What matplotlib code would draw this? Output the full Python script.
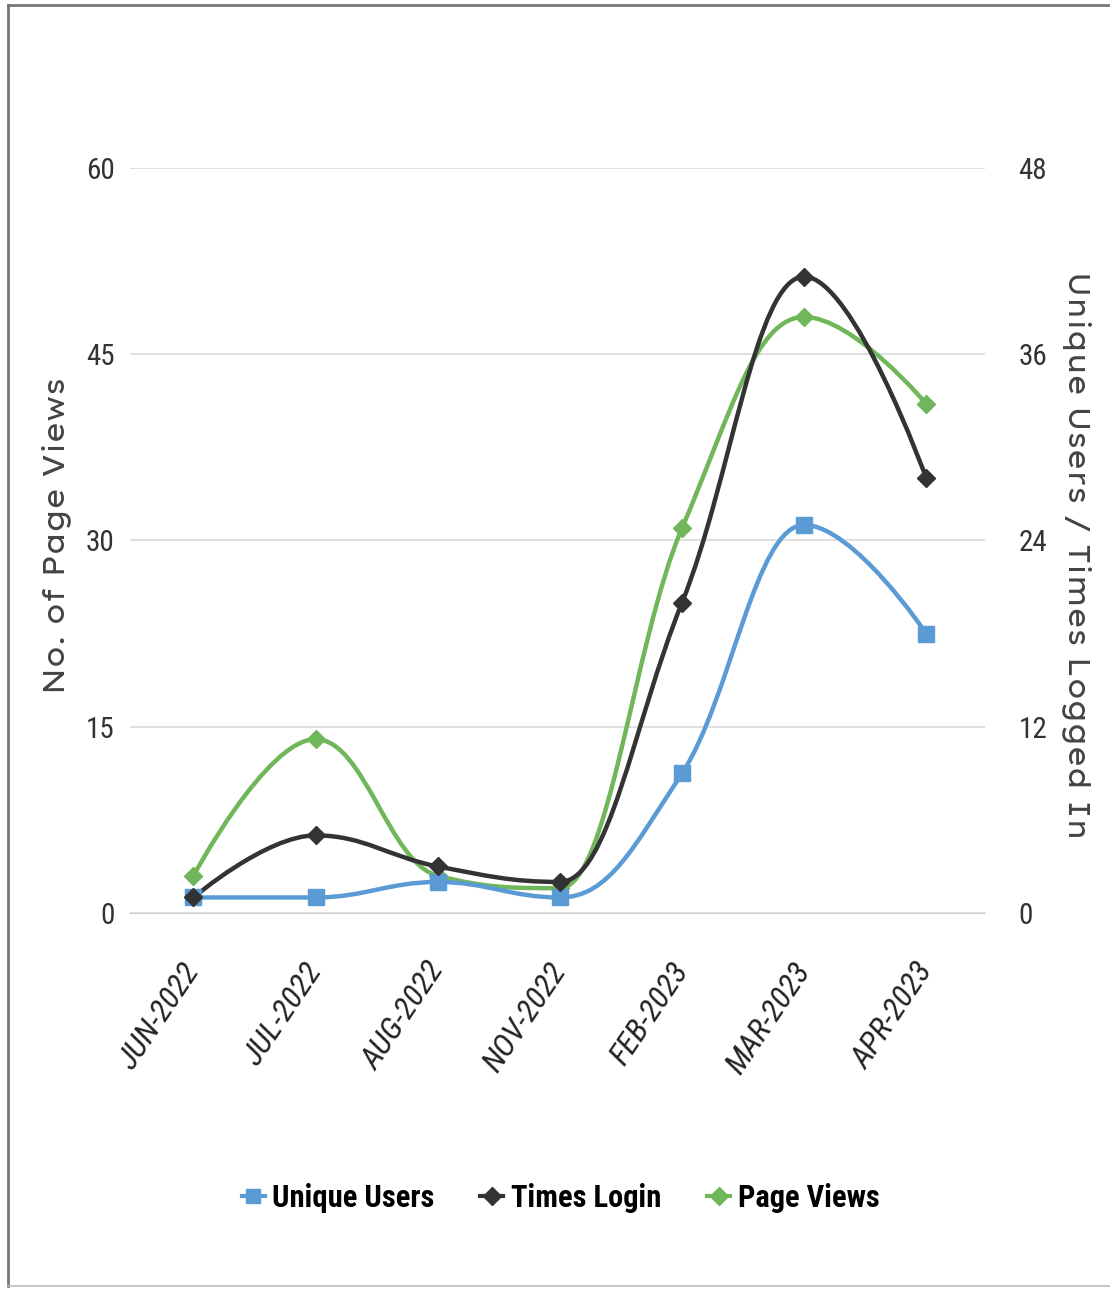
import numpy as np
import matplotlib
matplotlib.use("Agg")
from matplotlib import pyplot as plt
from matplotlib.path import Path
from matplotlib.patches import PathPatch
from matplotlib.lines import Line2D

months = ["JUN-2022", "JUL-2022", "AUG-2022", "NOV-2022", "FEB-2023", "MAR-2023", "APR-2023"]
unique_users = [1, 1, 2, 1, 9, 25, 18]
times_login = [1, 5, 3, 2, 20, 41, 28]
page_views = [3, 14, 3, 2, 31, 48, 41]

left_ticks = [0, 15, 30, 45, 60]
right_ticks = [0, 12, 24, 36, 48]

BLUE = "#5b9bd5"
BLACK = "#333333"
GREEN = "#70b65a"
NARROW = ["Roboto Condensed", "PT Sans Narrow", "Liberation Sans Narrow", "DejaVu Sans"]
WIDE = ["Lexend Exa", "DejaVu Sans"]


def spline_path(xs, ys, smoothing=1.5):
    # bezier spline through the points, like a charting lib "spline" series
    n = len(xs)
    denom = smoothing + 1
    right_c = [None] * n
    verts = [(xs[0], ys[0])]
    codes = [Path.MOVETO]
    for i in range(1, n):
        x, y = xs[i], ys[i]
        lx, ly = xs[i - 1], ys[i - 1]
        lcx, lcy = x, y
        if i < n - 1:
            nx, ny = xs[i + 1], ys[i + 1]
            lcx = (smoothing * x + lx) / denom
            lcy = (smoothing * y + ly) / denom
            rcx = (smoothing * x + nx) / denom
            rcy = (smoothing * y + ny) / denom
            corr = (rcy - lcy) * (rcx - x) / (rcx - lcx) + y - rcy
            lcy += corr
            rcy += corr
            if lcy > ly and lcy > y:
                lcy = max(ly, y)
                rcy = 2 * y - lcy
            elif lcy < ly and lcy < y:
                lcy = min(ly, y)
                rcy = 2 * y - lcy
            if rcy > ny and rcy > y:
                rcy = max(ny, y)
                lcy = 2 * y - rcy
            elif rcy < ny and rcy < y:
                rcy = min(ny, y)
                lcy = 2 * y - rcy
            right_c[i] = (rcx, rcy)
        p0 = right_c[i - 1] if right_c[i - 1] is not None else (lx, ly)
        verts += [p0, (lcx, lcy), (x, y)]
        codes += [Path.CURVE4] * 3
    return Path(verts, codes)


fig = plt.figure(figsize=(11.1, 12.91), dpi=100)
ax = fig.add_axes([0.117, 0.2928, 0.7704, 0.5771])
ax2 = ax.twinx()

x = np.arange(len(months))

for axis, vals, col, mk, ms in [(ax2, unique_users, BLUE, "s", 11),
                                 (ax2, times_login, BLACK, "D", 9),
                                 (ax, page_views, GREEN, "D", 9)]:
    p = spline_path(list(x.astype(float)), [float(v) for v in vals])
    axis.add_patch(PathPatch(p, facecolor="none", edgecolor=col, lw=3.2, zorder=3))
    axis.plot(x, vals, ls="none", marker=mk, color=col, ms=ms, zorder=4)

ax.set_xlim(-0.52, 6.48)
ax.set_ylim(0, 60)
ax2.set_ylim(0, 48)
ax.set_yticks(left_ticks)
ax2.set_yticks(right_ticks)
ax.grid(axis="y", color="#d9d9d9", lw=1.2)
ax.set_axisbelow(True)
for a in (ax, ax2):
    for s in a.spines.values():
        s.set_visible(False)
    a.tick_params(axis="y", length=0, labelsize=21, labelcolor="#333333")
    for lab in a.get_yticklabels():
        lab.set_family(NARROW)
ax.spines["bottom"].set_visible(True)
ax.spines["bottom"].set_color("#d0d0d0")
ax.tick_params(axis="y", pad=11)
ax2.tick_params(axis="y", pad=24)

ax.set_xticks(x)
ax.set_xticklabels(months, rotation=56, ha="right", va="center", rotation_mode="anchor",
                   fontsize=23, style="italic", family=NARROW, color="#222222")
ax.tick_params(axis="x", length=0, pad=38)

ax.set_ylabel("No. of Page Views", fontsize=21, color="#444444", family=WIDE,
              ha="center", va="center")
ax2.set_ylabel("Unique Users / Times Logged In", fontsize=21, color="#444444", family=WIDE,
               rotation=270, ha="center", va="center")
ax.yaxis.set_label_coords(-0.086, 0.507)
ax2.yaxis.set_label_coords(1.107, 0.48)

handles = [
    Line2D([], [], color=BLUE, lw=3, marker="s", ms=10),
    Line2D([], [], color=BLACK, lw=3, marker="D", ms=9),
    Line2D([], [], color=GREEN, lw=3, marker="D", ms=9),
]
leg = fig.legend(handles, ["Unique Users", "Times Login", "Page Views"], loc="center",
                 bbox_to_anchor=(0.505, 0.072), ncol=3, frameon=False, handlelength=0.75,
                 columnspacing=1.5, handletextpad=0.25,
                 prop={"family": NARROW, "size": 22, "weight": "bold"})

# scanned page frame
fig.add_artist(Line2D([0.0072, 0.0072], [0.004, 0.996], color="#777777", lw=2, transform=fig.transFigure))
fig.add_artist(Line2D([0.0072, 1.0], [0.996, 0.996], color="#777777", lw=2, transform=fig.transFigure))
fig.add_artist(Line2D([0.0072, 1.0], [0.004, 0.004], color="#bbbbbb", lw=1.2, transform=fig.transFigure))

fig.savefig("out.png", dpi=100)
